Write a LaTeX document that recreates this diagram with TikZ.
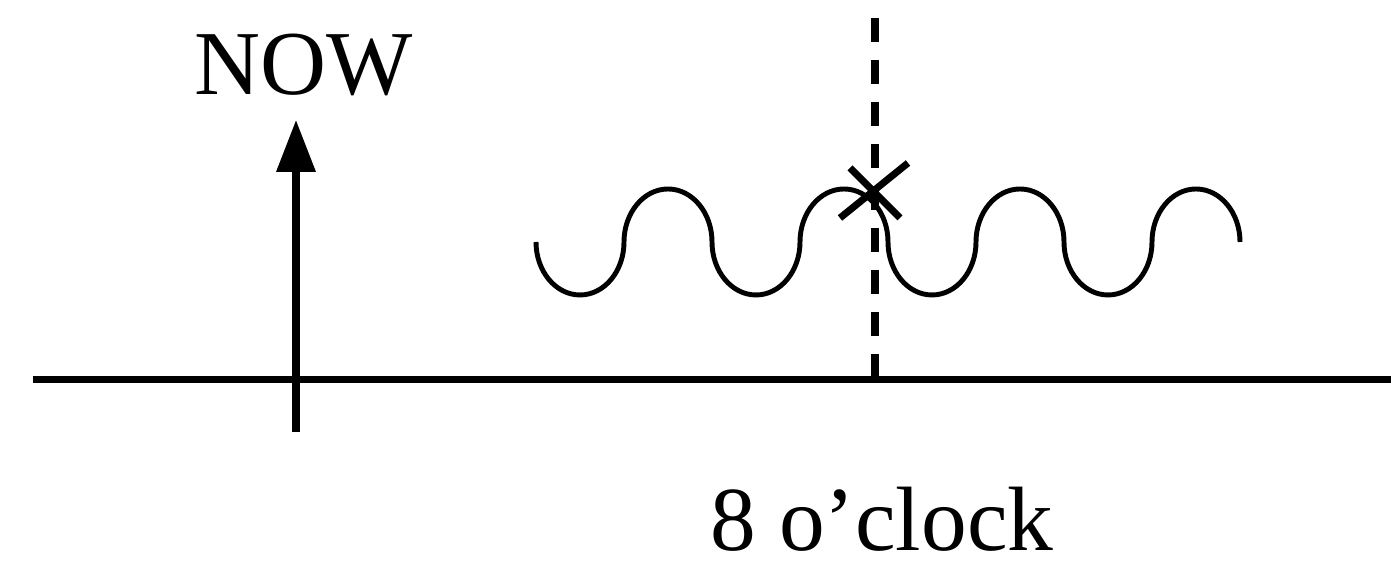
\documentclass[tikz,border=0pt]{standalone}
\usepackage{fontspec}
\setmainfont{Liberation Serif}
\usetikzlibrary{arrows.meta}
\tikzset{
  label/.style={font=\fontsize{26}{30}\selectfont, inner sep=0pt},
  wave/.style={line width=1.4pt},
}
\begin{document}
\begin{tikzpicture}[line width=2pt]
\useasboundingbox (0,0) rectangle (13.91,5.67);
				\coordinate (L) at (0.33,1.87);
				\coordinate (R) at (13.91,1.87);
				\coordinate (base) at (2.96,1.35);
				\coordinate (tip) at (2.96,4.47);
				\coordinate (top) at (8.75,5.49);
				\coordinate (foot) at (8.75,1.87);
				\coordinate (cross) at (8.73,3.75);
				\node[label] (now) at (3.04,5.02) {NOW};
				\node[label, anchor=base] (clock) at (8.82,0.16) {8 o'clock};
				\draw (L) -- (R);
				\draw[-{Triangle[length=5.2mm,width=3.8mm]}] (base) -- (tip);
				\draw[dash pattern=on 0.24cm off 0.18cm] (top) -- (foot);
%				four periods of the wave
				\draw[wave] (5.36,3.25) foreach \i in {0,...,3} {arc[start angle=180, end angle=360, x radius=0.44, y radius=0.53] arc[start angle=180, end angle=0, x radius=0.44, y radius=0.53]};
				\draw ([shift={(-0.23,0.24)}]cross) -- ([shift={(0.27,-0.26)}]cross);
				\draw ([shift={(-0.33,-0.26)}]cross) -- ([shift={(0.35,0.29)}]cross);
\end{tikzpicture}
\end{document}
